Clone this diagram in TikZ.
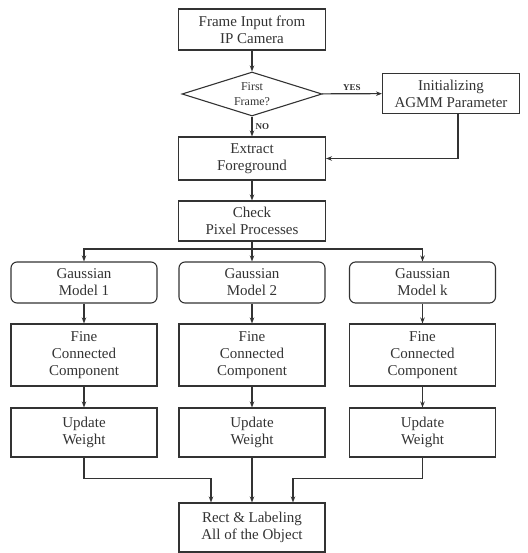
\documentclass[tikz,border=0pt]{standalone}
\usepackage{fontspec}
\setmainfont{Liberation Serif}
\usetikzlibrary{shapes.geometric,arrows.meta,positioning}

\begin{document}
\begin{tikzpicture}[x=1pt,y=-1pt,line width=1.1pt,color=black!80,
	>={Stealth[length=6pt,width=4.5pt]},
	box/.style={draw,align=center,inner sep=0pt,font=\fontsize{15}{17}\selectfont},
	rbox/.style={box,rounded corners=6pt},
	decision/.style={draw,diamond,aspect=3.2,inner sep=0pt,align=center,minimum width=140,minimum height=44,font=\fontsize{12}{15}\selectfont},
	lbl/.style={font=\fontsize{9}{10}\selectfont\bfseries,inner sep=3pt}]
	\useasboundingbox (0,0) rectangle (527,553);
	\node[box,minimum width=147,minimum height=41] (frame) at (252, 29.5) {Frame Input from\\IP Camera};
	\node[decision] (first) at (252, 94) {First\\Frame?};
	\node[box,minimum width=137,minimum height=40] (init) at (451, 93.5) {Initializing\\AGMM Parameter};
	\node[box,minimum width=147,minimum height=43] (extract) at (252, 158.5) {Extract\\Foreground};
	\node[box,minimum width=147,minimum height=40] (check) at (252, 221) {Check\\Pixel Processes};
	\coordinate (split) at (252, 249);
	\node[rbox,minimum width=146,minimum height=41] (gauss1) at (84, 282.5) {Gaussian\\Model 1};
	\node[rbox,minimum width=146,minimum height=41] (gauss2) at (252, 282.5) {Gaussian\\Model 2};
	\node[rbox,minimum width=146,minimum height=41] (gaussk) at (422.5, 282.5) {Gaussian\\Model k};
	\node[box,minimum width=146,minimum height=62] (fine1) at (84, 355) {Fine\\Connected\\Component};
	\node[box,minimum width=146,minimum height=62] (fine2) at (252, 355) {Fine\\Connected\\Component};
	\node[box,minimum width=146,minimum height=62] (finek) at (422.5, 355) {Fine\\Connected\\Component};
	\node[box,minimum width=146,minimum height=49] (upd1) at (84, 432.5) {Update\\Weight};
	\node[box,minimum width=146,minimum height=49] (upd2) at (252, 432.5) {Update\\Weight};
	\node[box,minimum width=146,minimum height=49] (updk) at (422.5, 432.5) {Update\\Weight};
	\node[box,minimum width=146,minimum height=49] (rect) at (252, 527.5) {Rect \& Labeling\\All of the Object};
	\draw [->] (frame) to (first);
	\draw [->] (first) to node[lbl,above] {YES} (init);
	\draw [->] (first) to node[lbl,right] {NO} (extract);
	\draw [->] ([xshift=7pt]init.south) |- (extract.east);
	\draw [->] (extract) to (check);
	\draw (check) to (split);
	\draw [->] (split) -| (gauss1);
	\draw [->] (split) to (gauss2);
	\draw [->] (split) -| (gaussk);
	\draw [->] (gauss1) to (fine1);
	\draw [->] (gauss2) to (fine2);
	\draw [->] (gaussk) to (finek);
	\draw [->] (fine1) to (upd1);
	\draw [->] (fine2) to (upd2);
	\draw [->] (finek) to (updk);
	\draw [->] (upd1.south) -- ++(0,21) -| ([xshift=-41pt]rect.north);
	\draw [->] (upd2) to (rect);
	\draw [->] (updk.south) -- ++(0,21) -| ([xshift=41pt]rect.north);
\end{tikzpicture}
\end{document}
